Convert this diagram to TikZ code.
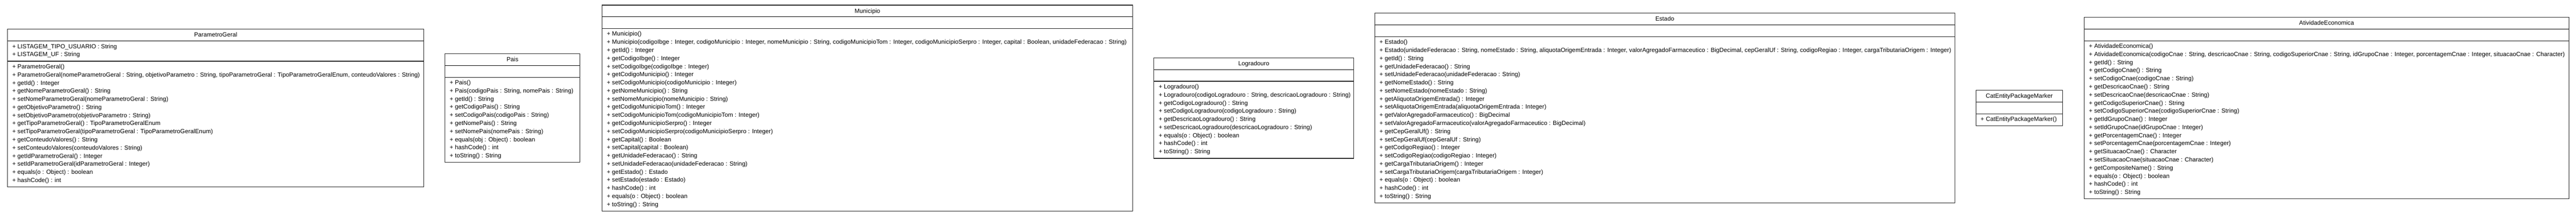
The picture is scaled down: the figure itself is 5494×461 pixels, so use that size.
\documentclass[tikz,border=0pt]{standalone}
\usepackage{fontspec}
\setmainfont{Liberation Sans}
\newcount\clsrowcount
\newcommand\umlfont{\fontsize{12.9}{15.5}\selectfont}
\tikzset{
  clsbox/.style={draw=black!85, line width=1.3pt, fill=white, inner sep=0pt, outer sep=0pt},
  titlerule/.style={draw=black, line width=1.6pt},
  attrrule/.style={draw=black!90, line width=1.4pt},
  titletext/.style={anchor=base, inner sep=0pt, font=\umlfont, text=black},
  rowtext/.style={anchor=base west, inner sep=0pt, font=\umlfont, text=black}
}
% #1 name, #2 left, #3 right, #4 number of attributes, #5 number of methods, #6 title
\newcommand\startcls[6]{%
  \xdef\curcls{#1}%
  \pgfmathsetmacro\clsA{ifthenelse(#4==0,25,8.667+17.333*#4)}%
  \pgfmathsetmacro\clsM{8.667+17.333*#5}%
  \pgfmathsetmacro\clsH{25+\clsA+\clsM}%
  \pgfmathsetmacro\clsT{231-\clsH/2}%
  \pgfmathsetmacro\clsDa{\clsT+25}%
  \pgfmathsetmacro\clsDb{\clsDa+\clsA}%
  \pgfmathsetmacro\clsW{#3-#2}%
  \pgfmathsetmacro\clsX{(#2+#3)/2}%
  \node[clsbox, minimum width=\clsW pt, minimum height=\clsH pt, anchor=north west] (#1) at (#2,\clsT) {};
  \coordinate (#1-da) at (#2,\clsDa);
  \coordinate (#1-db) at (#2,\clsDb);
  \node[titletext] (#1-title) at (\clsX,{\clsT+16.5}) {#6};
  \draw[titlerule] (#1.west |- #1-da) -- (#1.east |- #1-da);
  \draw[attrrule] (#1.west |- #1-db) -- (#1.east |- #1-db);
  \pgfmathsetmacro\tmpx{#2+10}\xdef\rowx{\tmpx}%
  \pgfmathsetmacro\tmpy{\clsDa+15.9}\xdef\rowy{\tmpy}%
  \pgfmathsetmacro\tmpy{\clsDb+15.9}\xdef\methy{\tmpy}%
  \global\clsrowcount=1\relax
}
\newcommand\startmethods{\xdef\rowy{\methy}}
\newcommand\clsrow[1]{%
  \node[rowtext] (\curcls-r\the\clsrowcount) at (\rowx,\rowy) {#1};%
  \global\advance\clsrowcount by 1\relax
  \pgfmathsetmacro\tmpy{\rowy+17.333}\xdef\rowy{\tmpy}%
}
\begin{document}
\begin{tikzpicture}[x=1pt,y=-1pt]
\useasboundingbox[fill=white] (0,0) rectangle (5494,461);

% ParametroGeral
\startcls{PG}{16}{904}{2}{15}{ParametroGeral}
\clsrow{+ LISTAGEM\_TIPO\_USUARIO : String}
\clsrow{+ LISTAGEM\_UF : String}
\startmethods
\clsrow{+ ParametroGeral()}
\clsrow{+ ParametroGeral(nomeParametroGeral : String, objetivoParametro : String, tipoParametroGeral : TipoParametroGeralEnum, conteudoValores : String)}
\clsrow{+ getId() : Integer}
\clsrow{+ getNomeParametroGeral() : String}
\clsrow{+ setNomeParametroGeral(nomeParametroGeral : String)}
\clsrow{+ getObjetivoParametro() : String}
\clsrow{+ setObjetivoParametro(objetivoParametro : String)}
\clsrow{+ getTipoParametroGeral() : TipoParametroGeralEnum}
\clsrow{+ setTipoParametroGeral(tipoParametroGeral : TipoParametroGeralEnum)}
\clsrow{+ getConteudoValores() : String}
\clsrow{+ setConteudoValores(conteudoValores : String)}
\clsrow{+ getIdParametroGeral() : Integer}
\clsrow{+ setIdParametroGeral(idParametroGeral : Integer)}
\clsrow{+ equals(o : Object) : boolean}
\clsrow{+ hashCode() : int}

% Pais
\startcls{PA}{949}{1237}{0}{10}{Pais}
\startmethods
\clsrow{+ Pais()}
\clsrow{+ Pais(codigoPais : String, nomePais : String)}
\clsrow{+ getId() : String}
\clsrow{+ getCodigoPais() : String}
\clsrow{+ setCodigoPais(codigoPais : String)}
\clsrow{+ getNomePais() : String}
\clsrow{+ setNomePais(nomePais : String)}
\clsrow{+ equals(obj : Object) : boolean}
\clsrow{+ hashCode() : int}
\clsrow{+ toString() : String}

% Municipio
\startcls{MU}{1284}{2416}{0}{22}{Municipio}
\startmethods
\clsrow{+ Municipio()}
\clsrow{+ Municipio(codigoIbge : Integer, codigoMunicipio : Integer, nomeMunicipio : String, codigoMunicipioTom : Integer, codigoMunicipioSerpro : Integer, capital : Boolean, unidadeFederacao : String)}
\clsrow{+ getId() : Integer}
\clsrow{+ getCodigoIbge() : Integer}
\clsrow{+ setCodigoIbge(codigoIbge : Integer)}
\clsrow{+ getCodigoMunicipio() : Integer}
\clsrow{+ setCodigoMunicipio(codigoMunicipio : Integer)}
\clsrow{+ getNomeMunicipio() : String}
\clsrow{+ setNomeMunicipio(nomeMunicipio : String)}
\clsrow{+ getCodigoMunicipioTom() : Integer}
\clsrow{+ setCodigoMunicipioTom(codigoMunicipioTom : Integer)}
\clsrow{+ getCodigoMunicipioSerpro() : Integer}
\clsrow{+ setCodigoMunicipioSerpro(codigoMunicipioSerpro : Integer)}
\clsrow{+ getCapital() : Boolean}
\clsrow{+ setCapital(capital : Boolean)}
\clsrow{+ getUnidadeFederacao() : String}
\clsrow{+ setUnidadeFederacao(unidadeFederacao : String)}
\clsrow{+ getEstado() : Estado}
\clsrow{+ setEstado(estado : Estado)}
\clsrow{+ hashCode() : int}
\clsrow{+ equals(o : Object) : boolean}
\clsrow{+ toString() : String}

% Logradouro
\startcls{LO}{2461}{2887}{0}{9}{Logradouro}
\startmethods
\clsrow{+ Logradouro()}
\clsrow{+ Logradouro(codigoLogradouro : String, descricaoLogradouro : String)}
\clsrow{+ getCodigoLogradouro() : String}
\clsrow{+ setCodigoLogradouro(codigoLogradouro : String)}
\clsrow{+ getDescricaoLogradouro() : String}
\clsrow{+ setDescricaoLogradouro(descricaoLogradouro : String)}
\clsrow{+ equals(o : Object) : boolean}
\clsrow{+ hashCode() : int}
\clsrow{+ toString() : String}

% Estado
\startcls{ES}{2932}{4169}{0}{20}{Estado}
\startmethods
\clsrow{+ Estado()}
\clsrow{+ Estado(unidadeFederacao : String, nomeEstado : String, aliquotaOrigemEntrada : Integer, valorAgregadoFarmaceutico : BigDecimal, cepGeralUf : String, codigoRegiao : Integer, cargaTributariaOrigem : Integer)}
\clsrow{+ getId() : String}
\clsrow{+ getUnidadeFederacao() : String}
\clsrow{+ setUnidadeFederacao(unidadeFederacao : String)}
\clsrow{+ getNomeEstado() : String}
\clsrow{+ setNomeEstado(nomeEstado : String)}
\clsrow{+ getAliquotaOrigemEntrada() : Integer}
\clsrow{+ setAliquotaOrigemEntrada(aliquotaOrigemEntrada : Integer)}
\clsrow{+ getValorAgregadoFarmaceutico() : BigDecimal}
\clsrow{+ setValorAgregadoFarmaceutico(valorAgregadoFarmaceutico : BigDecimal)}
\clsrow{+ getCepGeralUf() : String}
\clsrow{+ setCepGeralUf(cepGeralUf : String)}
\clsrow{+ getCodigoRegiao() : Integer}
\clsrow{+ setCodigoRegiao(codigoRegiao : Integer)}
\clsrow{+ getCargaTributariaOrigem() : Integer}
\clsrow{+ setCargaTributariaOrigem(cargaTributariaOrigem : Integer)}
\clsrow{+ equals(o : Object) : boolean}
\clsrow{+ hashCode() : int}
\clsrow{+ toString() : String}

% CatEntityPackageMarker
\startcls{CE}{4214}{4399}{0}{1}{CatEntityPackageMarker}
\startmethods
\clsrow{+ CatEntityPackageMarker()}

% AtividadeEconomica
\startcls{AE}{4445}{5479}{0}{19}{AtividadeEconomica}
\startmethods
\clsrow{+ AtividadeEconomica()}
\clsrow{+ AtividadeEconomica(codigoCnae : String, descricaoCnae : String, codigoSuperiorCnae : String, idGrupoCnae : Integer, porcentagemCnae : Integer, situacaoCnae : Character)}
\clsrow{+ getId() : String}
\clsrow{+ getCodigoCnae() : String}
\clsrow{+ setCodigoCnae(codigoCnae : String)}
\clsrow{+ getDescricaoCnae() : String}
\clsrow{+ setDescricaoCnae(descricaoCnae : String)}
\clsrow{+ getCodigoSuperiorCnae() : String}
\clsrow{+ setCodigoSuperiorCnae(codigoSuperiorCnae : String)}
\clsrow{+ getIdGrupoCnae() : Integer}
\clsrow{+ setIdGrupoCnae(idGrupoCnae : Integer)}
\clsrow{+ getPorcentagemCnae() : Integer}
\clsrow{+ setPorcentagemCnae(porcentagemCnae : Integer)}
\clsrow{+ getSituacaoCnae() : Character}
\clsrow{+ setSituacaoCnae(situacaoCnae : Character)}
\clsrow{+ getCompositeName() : String}
\clsrow{+ equals(o : Object) : boolean}
\clsrow{+ hashCode() : int}
\clsrow{+ toString() : String}
\end{tikzpicture}
\end{document}
